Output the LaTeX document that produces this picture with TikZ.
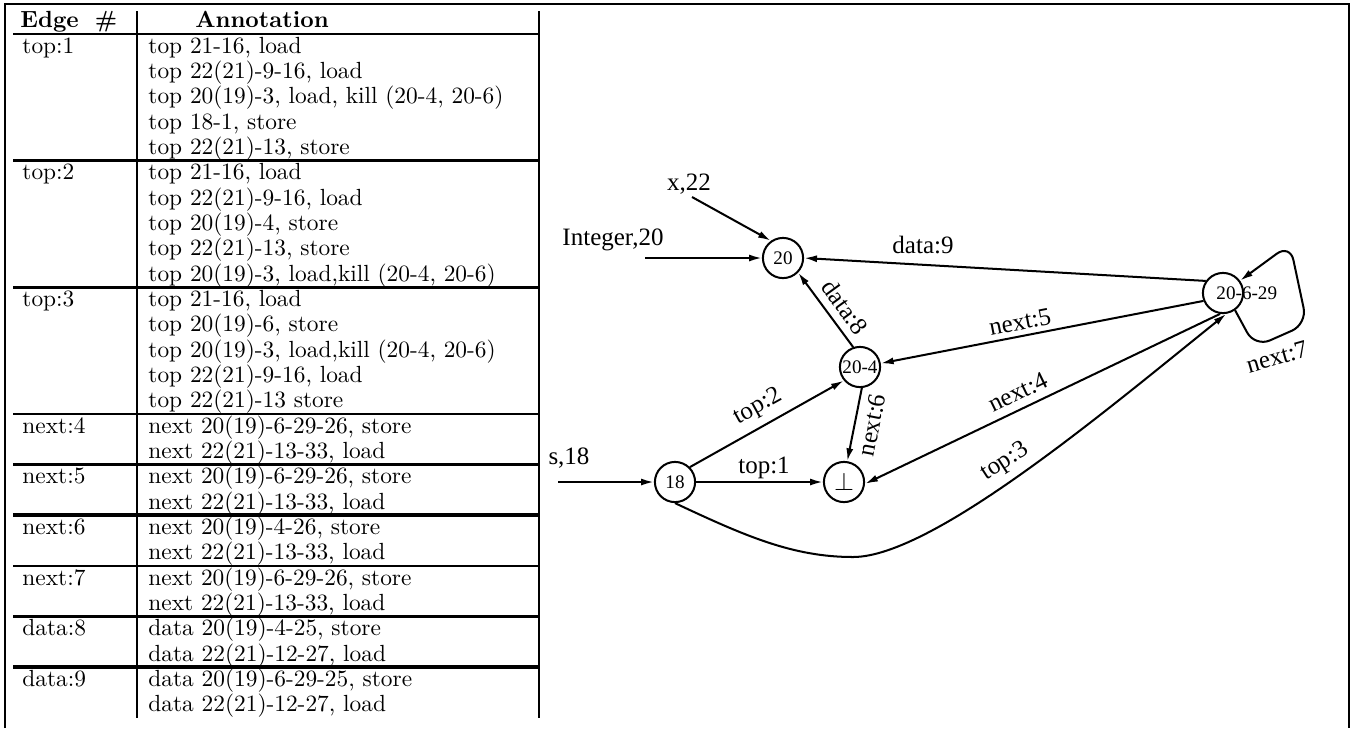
\documentclass[tikz,border=0pt]{standalone}
\usepackage{fontspec}
\newfontfamily\timesf{Liberation Serif}
\usetikzlibrary{arrows.meta}
\begin{document}
\begin{tikzpicture}[x=0.428pt,y=-0.428pt,
  frame/.style={line width=1.25pt},
  rule/.style={line width=1.1pt},
  thickrule/.style={line width=1.6pt},
  tab/.style={font=\fontsize{10}{12}\selectfont, anchor=base west, inner sep=0pt},
  hd/.style={font=\fontsize{10}{12}\selectfont\bfseries, anchor=base, inner sep=0pt},
  gline/.style={line width=0.86pt},
  arr/.style={gline, -{Latex[length=5.5pt,width=3pt]}},
  circ/.style={circle, draw, line width=0.86pt, minimum size=17.2pt, inner sep=0pt, font=\timesf\fontsize{8.2}{9}\selectfont},
  nlab/.style={font=\timesf\fontsize{8.2}{9}\selectfont, inner sep=0pt},
  elab/.style={font=\timesf\fontsize{10.7}{12}\selectfont, inner sep=0pt}]
\useasboundingbox (0,0) rectangle (1354,728);
% outer frame
\draw[frame] (5,728) -- (5,4) -- (1349,4) -- (1349,728);
% table lines
\draw[rule] (137,11) -- (137,718);
\draw[rule] (539,11) -- (539,718);
\draw[rule] (13,34) -- (539,34);
\draw[rule] (13,160.7) -- (539,160.7);
\draw[rule] (13,287.3) -- (539,287.3);
\draw[rule] (13,414) -- (539,414);
\draw[thickrule] (13,464.6) -- (539,464.6);
\draw[thickrule] (13,515.3) -- (539,515.3);
\draw[rule] (13,566) -- (539,566);
\draw[rule] (13,616.6) -- (539,616.6);
\draw[thickrule] (13,667.3) -- (539,667.3);
% header
\node[hd, anchor=base west] (h1) at (20,27) {Edge\hspace{3pt} \#};
\node[hd] (h2) at (262,27) {Annotation};
% left column
\node[tab] (e1) at (22,53) {top:1};
\node[tab] (e2) at (22,179.7) {top:2};
\node[tab] (e3) at (22,306.3) {top:3};
\node[tab] (e4) at (22,433) {next:4};
\node[tab] (e5) at (22,483.6) {next:5};
\node[tab] (e6) at (22,534.3) {next:6};
\node[tab] (e7) at (22,585) {next:7};
\node[tab] (e8) at (22,635.6) {data:8};
\node[tab] (e9) at (22,686.3) {data:9};
% annotations
\node[tab] (a0) at (148,53) {top 21-16, load};
\node[tab] (a1) at (148,78.33) {top 22(21)-9-16, load};
\node[tab] (a2) at (148,103.66) {top 20(19)-3, load, kill (20-4, 20-6)};
\node[tab] (a3) at (148,129) {top 18-1, store};
\node[tab] (a4) at (148,154.3) {top 22(21)-13, store};
\node[tab] (a5) at (148,179.7) {top 21-16, load};
\node[tab] (a6) at (148,205) {top 22(21)-9-16, load};
\node[tab] (a7) at (148,230.3) {top 20(19)-4, store};
\node[tab] (a8) at (148,255.6) {top 22(21)-13, store};
\node[tab] (a9) at (148,281) {top 20(19)-3, load,kill (20-4, 20-6)};
\node[tab] (a10) at (148,306.3) {top 21-16, load};
\node[tab] (a11) at (148,331.6) {top 20(19)-6, store};
\node[tab] (a12) at (148,357) {top 20(19)-3, load,kill (20-4, 20-6)};
\node[tab] (a13) at (148,382.3) {top 22(21)-9-16, load};
\node[tab] (a14) at (148,407.6) {top 22(21)-13 store};
\node[tab] (a15) at (148,433) {next 20(19)-6-29-26, store};
\node[tab] (a16) at (148,458.3) {next 22(21)-13-33, load};
\node[tab] (a17) at (148,483.6) {next 20(19)-6-29-26, store};
\node[tab] (a18) at (148,509) {next 22(21)-13-33, load};
\node[tab] (a19) at (148,534.3) {next 20(19)-4-26, store};
\node[tab] (a20) at (148,559.6) {next 22(21)-13-33, load};
\node[tab] (a21) at (148,585) {next 20(19)-6-29-26, store};
\node[tab] (a22) at (148,610.3) {next 22(21)-13-33, load};
\node[tab] (a23) at (148,635.6) {data 20(19)-4-25, store};
\node[tab] (a24) at (148,661) {data 22(21)-12-27, load};
\node[tab] (a25) at (148,686.3) {data 20(19)-6-29-25, store};
\node[tab] (a26) at (148,711.6) {data 22(21)-12-27, load};
% graph nodes
\node[circ] (n20) at (783,258) {20};
\node[circ] (n204) at (860,367) {20-4};
\node[circ] (n18) at (675,482) {18};
\node[circ, font=\fontsize{11}{12}\selectfont] (nbot) at (844,482) {$\perp$};
\node[circ] (n2029) at (1223,293) {};
\node[nlab, anchor=west] (t2029) at (1216,293) {20-6-29};
% entry points
\coordinate (xs) at (692,197);
\coordinate (is) at (645,258);
\coordinate (ss) at (558,482);
\node[elab] (lx) at (689,184) {x,22};
\node[elab] (li) at (613,240) {Integer,20};
\node[elab] (ls) at (569,458) {s,18};
\draw[arr] (xs) -- (n20.125);
\draw[arr] (is) -- (n20.west);
\draw[arr] (ss) -- (n18.west);
% edges
\draw[arr] (n2029.145) -- (n20.east);
\draw[arr] (n2029.202) -- (n204.10);
\draw[arr] (n204.109) -- (n20.316);
\draw[arr] (n18.45) -- (n204.220);
\draw[arr] (n18.east) -- (nbot.west);
\draw[arr] (n204.275) -- (nbot.81);
\draw[arr] (n2029.262) -- (nbot.-5);
\draw[arr] (n18.south) .. controls (745,536) and (793,557) .. (853,557) .. controls (933,557) and (1109,408) .. (n2029.279);
\draw[arr, rounded corners=7pt] (n2029.305) -- (1255,347) -- (1307,324) -- (1290,244) -- (n2029.36);
% edge labels
\node[elab] (l9) at (923,245) {data:9};
\node[elab, rotate=11] (l5) at (1020,322) {next:5};
\node[elab, rotate=-54] (l8) at (845,307) {data:8};
\node[elab, rotate=26] (l4) at (1018,392) {next:4};
\node[elab, rotate=16] (l7) at (1277,357) {next:7};
\node[elab, rotate=29] (l2) at (758,407) {top:2};
\node[elab] (l1) at (764,468) {top:1};
\node[elab, rotate=79] (l6) at (872,425) {next:6};
\node[elab, rotate=33] (l3) at (1005,462) {top:3};
\end{tikzpicture}
\end{document}
